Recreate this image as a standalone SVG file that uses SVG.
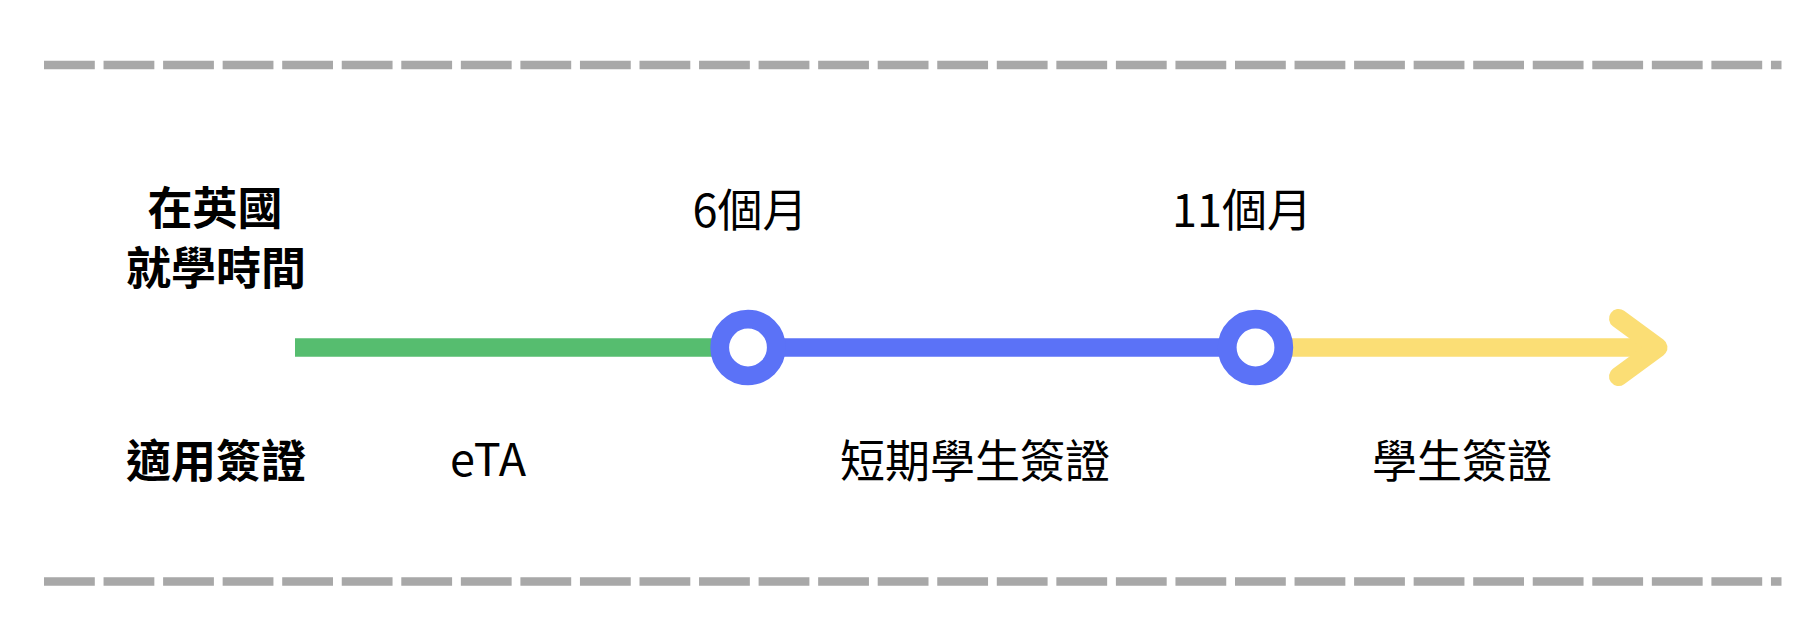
<svg xmlns="http://www.w3.org/2000/svg" width="1812" height="640" viewBox="0 0 1812 640">
<style>
.dash{stroke:#a8a8a8;stroke-width:8.5;stroke-dasharray:50.8 8.75;fill:none}
.t{font-family:"Noto Sans CJK TC","Noto Sans",sans-serif;font-size:45px;fill:#000;text-anchor:middle}
.b{font-weight:bold}
.ring{fill:#fff;stroke:#5b72f7;stroke-width:18.8}
</style>
<rect width="1812" height="640" fill="#fff"/>
<g id="borders">
<line class="dash" x1="44" y1="65" x2="1781.5" y2="65"/>
<line class="dash" x1="44" y1="581.5" x2="1781.5" y2="581.5"/>
</g>
<g id="labels">
<text class="t b" x="215" y="225">在英國</text>
<text class="t b" x="216" y="285">就學時間</text>
<text class="t b" x="216" y="478">適用簽證</text>
</g>
<g id="connectors">
<line x1="295" y1="347.5" x2="712" y2="347.5" stroke="#56bd6f" stroke-width="18.5"/>
<line x1="748" y1="347.5" x2="1255.5" y2="347.5" stroke="#5b72f7" stroke-width="18.5"/>
<line x1="1292" y1="347.5" x2="1658" y2="347.5" stroke="#fbde75" stroke-width="18.5"/>
<polyline points="1618.5,318.5 1658,347.5 1618.5,376.5" fill="none" stroke="#fbde75" stroke-width="19" stroke-linecap="round" stroke-linejoin="round"/>
</g>
<g id="m6">
<circle class="ring" cx="748" cy="347.5" r="28.3"/>
<text class="t" x="750" y="227">6個月</text>
</g>
<g id="m11">
<circle class="ring" cx="1255.5" cy="347.5" r="28.3"/>
<text class="t" x="1242" y="227">11個月</text>
</g>
<g id="eta"><text class="t" x="488" y="476">eTA</text></g>
<g id="short"><text class="t" x="975" y="478">短期學生簽證</text></g>
<g id="student"><text class="t" x="1462" y="478">學生簽證</text></g>
</svg>
